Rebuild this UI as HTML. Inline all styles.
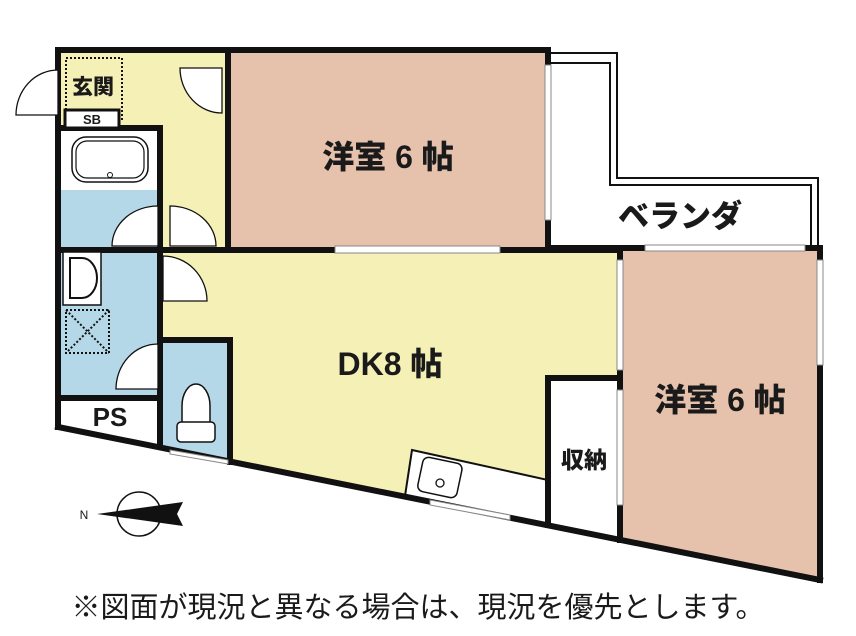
<!DOCTYPE html>
<html><head><meta charset="utf-8"><style>
html,body{margin:0;padding:0;background:#fff;width:856px;height:636px;overflow:hidden}
svg{display:block}
text{font-family:"Liberation Sans","Noto Sans CJK JP",sans-serif;font-weight:900;fill:#1a1a1a}
</style></head><body>
<svg width="856" height="636" viewBox="0 0 856 636">
<!-- fills -->
<polygon points="58,50 228,50 228,250 58,250" fill="#f5f0b5"/>
<polygon points="228,50 548,50 548,250 228,250" fill="#e6c2ad"/>
<polygon points="160,250 620,250 620,539 160,447" fill="#f5f0b5"/>
<polygon points="620,250 820,250 820,579 620,539" fill="#e6c2ad"/>
<!-- bath -->
<rect x="60" y="130" width="100" height="60" fill="#fff"/>
<rect x="60" y="190" width="100" height="60" fill="#b5d8e8"/>
<rect x="60" y="250" width="100" height="148" fill="#b5d8e8"/>
<polygon points="60,400 160,400 160,446 60,427" fill="#fff"/>
<polygon points="163,340 230,340 230,461 163,448" fill="#b5d8e8"/>
<!-- storage -->
<polygon points="548,378 620,378 620,539 548,525" fill="#fff"/>
<!-- kitchen counter -->
<polygon points="412,450 548,480 548,525 405,496" fill="#fff" stroke="#111" stroke-width="2"/>
<rect x="420" y="460" width="40" height="35" rx="6" fill="none" stroke="#111" stroke-width="1.5" transform="rotate(12 440 477)"/>
<circle cx="440" cy="483" r="4" fill="none" stroke="#111" stroke-width="1.3"/>
<!-- balcony -->
<polyline points="548,53 617,53 617,178 818,178 818,248" fill="none" stroke="#111" stroke-width="2"/>
<polyline points="548,63 610,63 610,185 811,185 811,248" fill="none" stroke="#111" stroke-width="2"/>
<!-- walls -->
<g stroke="#111" stroke-width="6" fill="none" stroke-linecap="square">
<line x1="58" y1="50" x2="548" y2="50"/>
<line x1="58" y1="50" x2="58" y2="427"/>
<line x1="58" y1="427" x2="820" y2="580"/>
<line x1="820" y1="248" x2="820" y2="580"/>
<line x1="228" y1="50" x2="228" y2="250"/>
<line x1="548" y1="50" x2="548" y2="248"/>
<line x1="548" y1="248" x2="820" y2="248"/>
<line x1="160" y1="250" x2="620" y2="250"/>
<line x1="58" y1="250" x2="160" y2="250"/>
<line x1="160" y1="128" x2="160" y2="446"/>
<line x1="58" y1="128" x2="160" y2="128"/>
<line x1="58" y1="398" x2="160" y2="398"/>
<line x1="163" y1="340" x2="230" y2="340"/>
<line x1="230" y1="340" x2="230" y2="462"/>
<line x1="548" y1="378" x2="620" y2="378"/>
<line x1="548" y1="378" x2="548" y2="525"/>
<line x1="620" y1="250" x2="620" y2="540"/>
</g>
<!-- windows -->
<g fill="#fff" stroke="#888" stroke-width="1">
<rect x="335" y="246" width="165" height="7"/>
<rect x="645" y="245" width="160" height="6"/>
<rect x="545" y="65" width="6" height="155"/>
<rect x="817" y="260" width="6" height="105"/>
<rect x="617" y="260" width="6" height="110"/>
<rect x="617" y="390" width="6" height="115"/>
<polygon points="430,500 510,515 510,520 430,505"/>
<polygon points="170,450 228,460 228,464 170,454"/>
</g>
<!-- sb / genkan -->
<rect x="66" y="58" width="56" height="62" fill="none" stroke="#111" stroke-width="2" stroke-dasharray="2,2"/>
<rect x="65" y="110" width="54" height="18" fill="#fff" stroke="#111" stroke-width="3"/>
<text x="92" y="124" font-size="13" text-anchor="middle">SB</text>
<text x="93" y="94" font-size="21" text-anchor="middle">玄関</text>
<!-- tub -->
<rect x="72" y="137" width="76" height="45" rx="14" fill="none" stroke="#111" stroke-width="1.5"/>
<rect x="76" y="141" width="68" height="37" rx="11" fill="none" stroke="#111" stroke-width="1.2"/>
<circle cx="110" cy="175" r="2.5" fill="none" stroke="#111"/>
<!-- D washer -->
<rect x="63" y="252" width="38" height="53" fill="#fff" stroke="#111" stroke-width="1.5"/>
<path d="M70,258 h12 a12,16 0 0 1 0,40 h-12z" fill="none" stroke="#111" stroke-width="2"/>
<rect x="66" y="310" width="43" height="43" fill="none" stroke="#111" stroke-width="2" stroke-dasharray="2,2"/>
<line x1="66" y1="310" x2="109" y2="353" stroke="#111" stroke-width="2" stroke-dasharray="2,2"/>
<line x1="109" y1="310" x2="66" y2="353" stroke="#111" stroke-width="2" stroke-dasharray="2,2"/>
<text x="110" y="426" font-size="26" text-anchor="middle">PS</text>
<!-- toilet -->
<path d="M182,424 v-18 a14,22 0 0 1 28,0 v18z" fill="#fff" stroke="#111" stroke-width="1.5"/>
<rect x="177" y="422" width="38" height="20" rx="4" fill="#fff" stroke="#111" stroke-width="1.5"/>
<!-- doors -->
<g fill="#fff" stroke="#111" stroke-width="1.3">
<path d="M58,70 v45 h-42 a42,45 0 0 1 42,-45z"/>
<path d="M222,68 v45 a42,45 0 0 1 -42,-45z"/>
<path d="M158,206 v40 h-46 a46,40 0 0 1 46,-40z"/>
<path d="M170,206 v40 h46 a46,40 0 0 0 -46,-40z"/>
<path d="M163,256 v45 h44 a44,45 0 0 0 -44,-45z"/>
<path d="M158,344 v45 h-42 a42,45 0 0 1 42,-45z"/>
</g>
<!-- labels -->
<text x="388" y="168" font-size="32" text-anchor="middle">洋室 6 帖</text>
<text x="390" y="375" font-size="32" text-anchor="middle">DK8 帖</text>
<text x="720" y="411" font-size="32" text-anchor="middle">洋室 6 帖</text>
<text x="584" y="468" font-size="23" text-anchor="middle">収納</text>
<text x="680" y="227" font-size="31" text-anchor="middle">ベランダ</text>
<!-- compass -->
<text x="84" y="519" font-size="12" text-anchor="middle" style="font-weight:normal">N</text>
<circle cx="139" cy="514" r="22" fill="none" stroke="#111" stroke-width="1.5"/>
<path d="M97,514 L183,502 L177,514 L183,526z" fill="#111"/>
<text x="418" y="617" font-size="29" text-anchor="middle" style="font-weight:normal">※図面が現況と異なる場合は、現況を優先とします。</text>
</svg>
</body></html>
